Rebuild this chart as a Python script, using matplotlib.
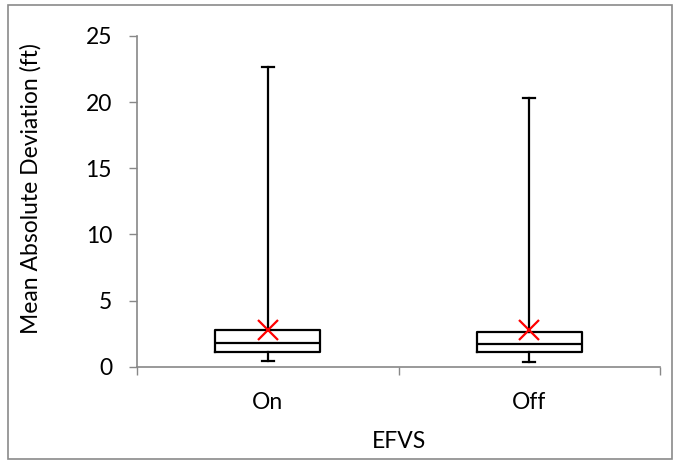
import matplotlib
matplotlib.use("Agg")
import matplotlib.pyplot as plt
from matplotlib.patches import Rectangle

# Box-plot summary statistics for each EFVS condition
categories = ["On", "Off"]
minimums = [0.44, 0.32]
q1_values = [1.12, 1.12]
medians = [1.80, 1.75]
q3_values = [2.81, 2.60]
maximums = [22.64, 20.33]
means = [2.76, 2.76]
y_ticks = [0, 5, 10, 15, 20, 25]

plt.rcParams["font.family"] = ["Lato", "DejaVu Sans"]
fs = 16.5

fig = plt.figure(figsize=(6.74, 4.61), dpi=100)
ax = fig.add_axes([137 / 674, 1 - 366.7 / 461, (660 - 137) / 674, (366.7 - 36) / 461])

stats = []
for i, name in enumerate(categories):
    stats.append(dict(label=name, whislo=minimums[i], q1=q1_values[i], med=medians[i],
                      q3=q3_values[i], whishi=maximums[i], fliers=[]))

positions = list(range(1, len(categories) + 1))
lw = 1.6
ax.bxp(stats, positions=positions, widths=0.4, capwidths=0.046, showfliers=False,
       boxprops=dict(color="black", linewidth=lw),
       medianprops=dict(color="black", linewidth=lw),
       whiskerprops=dict(color="black", linewidth=lw),
       capprops=dict(color="black", linewidth=lw))

ax.plot(positions, means, linestyle="none", marker="x", color="#ff0000",
        markersize=14, markeredgewidth=1.6, zorder=5)

grey = "#888888"
ax.set_xlim(0.5, len(categories) + 0.5)
ax.set_ylim(0, 25)
ax.set_yticks(y_ticks)
ax.set_yticklabels([str(t) for t in y_ticks], fontsize=fs)

# Category labels sit between the tick marks, which fall on category boundaries
ax.set_xticks([0.5 + k for k in range(len(categories) + 1)])
ax.set_xticklabels([])
ax.set_xticks(positions, minor=True)
ax.set_xticklabels(categories, minor=True, fontsize=fs)
ax.tick_params(axis="x", which="major", direction="out", length=6, color=grey, width=1)
ax.tick_params(axis="x", which="minor", length=0, pad=18)
ax.tick_params(axis="y", direction="out", length=6, color=grey, width=1, pad=12)

for side in ("top", "right"):
    ax.spines[side].set_visible(False)
for side in ("left", "bottom"):
    ax.spines[side].set_color(grey)
    ax.spines[side].set_linewidth(1.2)

xl = ax.set_xlabel("EFVS", fontsize=fs)
xl.set_va("center")
ax.xaxis.set_label_coords(0.5, -0.225)
yl = ax.set_ylabel("Mean Absolute Deviation (ft)", fontsize=fs)
yl.set_va("center")
ax.yaxis.set_label_coords(-0.203, 0.54)

# Outer chart frame
fig.patches.append(Rectangle((8 / 674, 2 / 461), 664 / 674, 454 / 461, transform=fig.transFigure,
                             fill=False, edgecolor="#8a8a8a", linewidth=1.2))

fig.savefig("out.png", dpi=100)
